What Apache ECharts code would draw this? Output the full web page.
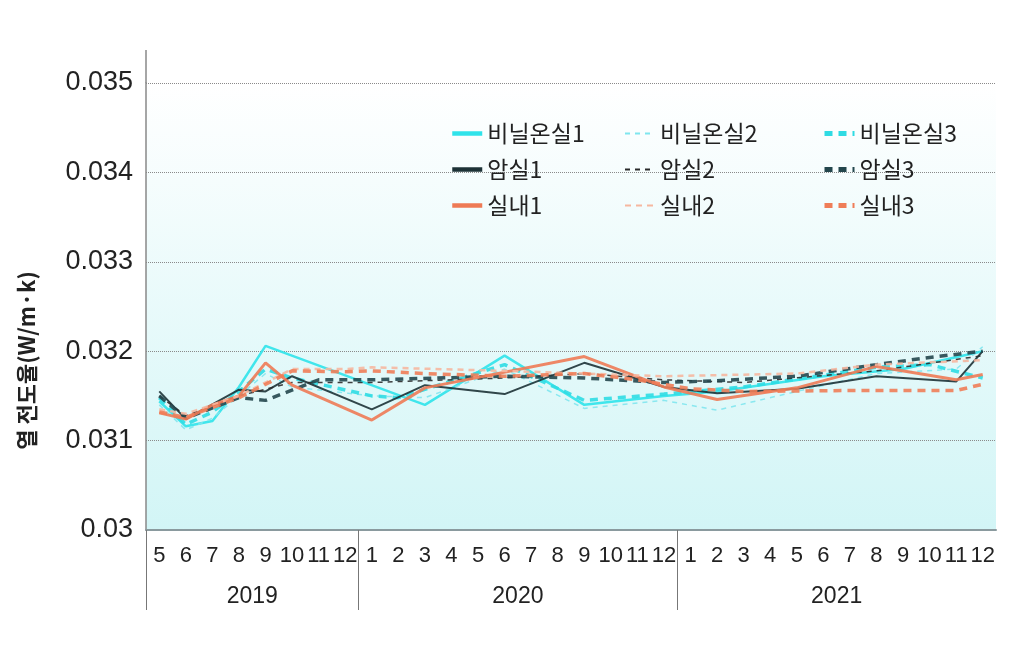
<!DOCTYPE html>
<html>
<head>
<meta charset="utf-8">
<script src="https://cdn.jsdelivr.net/npm/echarts@6/dist/echarts.min.js"></script>
<style>
html, body { margin: 0; padding: 0; background: #fff; }
#chart { width: 1020px; height: 652px; }
</style>
</head>
<body>
<div id="chart"></div>
<script>
// months from 2019-05 to 2021-12
var months = ['5','6','7','8','9','10','11','12',
  '1','2','3','4','5','6','7','8','9','10','11','12',
  '1','2','3','4','5','6','7','8','9','10','11','12'];
var years = ['2019', '2020', '2021'];
var yearMonths = [8, 12, 12];
var yTicks = [0.03, 0.031, 0.032, 0.033, 0.034, 0.035];

var n = null;
// 비닐온실
var vinyl1 = [0.03144,0.03116,0.03122,0.03160,0.03206,n,n,n, n,n,0.03140,n,n,0.03195,n,n,0.03140,n,n,0.03150, n,0.03155,n,n,n,0.03172,n,n,0.03180,n,n,0.03200];
var vinyl2 = [0.03140,0.03112,0.03125,n,0.03175,0.03160,n,n, 0.03150,n,0.03148,n,n,0.03180,n,n,0.03136,n,n,0.03145, n,0.03134,n,n,0.03155,n,n,0.03175,n,n,0.03180,0.03205];
var vinyl3 = [0.03148,0.03118,0.03132,0.03155,0.03180,0.03170,n,n, 0.03150,0.03148,n,n,n,0.03185,n,n,0.03145,n,n,0.03152, n,n,0.03160,n,n,n,n,0.03182,n,0.03185,n,0.03170];
// 암실
var dark1 = [0.03155,0.03124,n,0.03157,0.03155,0.03172,n,n, 0.03135,n,0.03162,n,n,0.03152,n,n,0.03187,n,n,0.03160, n,0.03153,n,n,0.03158,n,n,0.03172,n,n,0.03166,0.03200];
var dark2 = [0.03150,0.03128,n,0.03150,n,0.03165,n,n, 0.03165,n,n,n,n,0.03170,n,n,0.03175,n,n,0.03168, n,n,0.03165,n,n,n,n,0.03178,n,n,n,0.03195];
var dark3 = [0.03150,0.03125,n,0.03148,0.03145,n,0.03168,n, 0.03168,n,n,n,n,0.03172,n,n,0.03170,n,n,0.03165, n,0.03167,n,n,0.03172,n,n,0.03185,n,0.03193,n,0.03200];
// 실내
var room1 = [0.03131,0.03124,0.03140,0.03150,0.03187,0.03162,n,n, 0.03123,n,0.03159,n,n,n,n,n,0.03194,n,n,0.03160, n,0.03146,n,n,0.03159,n,n,0.03183,n,n,0.03168,0.03174];
var room2 = [0.03135,0.03130,n,0.03150,n,0.03180,n,0.03180, 0.03182,n,n,n,n,0.03178,n,n,0.03175,n,n,0.03172, n,n,n,n,0.03175,n,n,0.03185,n,n,n,0.03190];
var room3 = [0.03132,0.03126,n,0.03148,n,0.03178,n,0.03177, 0.03178,n,0.03175,n,n,0.03172,n,n,0.03175,n,0.03168,n, 0.03158,n,0.03155,n,n,n,0.03156,n,n,n,0.03156,0.03163];

var names = ['비닐온실1','비닐온실2','비닐온실3','암실1','암실2','암실3','실내1','실내2','실내3'];
var values = [vinyl1, vinyl2, vinyl3, dark1, dark2, dark3, room1, room2, room3];
var colors = ['#2fe3ea','#7fe6ee','#2fdbe3','#1d3236','#2a2a2a','#23464c','#ee7a55','#f6b7a0','#ef7d58'];
var widths = [2.5, 1.5, 3.5, 2, 1.5, 3.5, 3, 2.5, 3.5];
var dashes = ['solid', [5, 5], [8, 6], 'solid', [5, 5], [8, 6], 'solid', [6, 5], [8, 6]];

// year row: point axis with 33 boundary points, label in middle of each year
var yearLabels = [];
for (var i = 0; i <= months.length; i++) yearLabels.push('');
var pos = 0;
var yearStarts = [];
years.forEach(function (y, k) {
  yearStarts.push(pos);
  yearLabels[pos + yearMonths[k] / 2] = y;
  pos += yearMonths[k];
});

var chart = echarts.init(document.getElementById('chart'));

var series = names.map(function (name, k) {
  return {
    name: name,
    type: 'line',
    data: values[k],
    symbol: 'none',
    connectNulls: true,
    itemStyle: { color: colors[k] },
    lineStyle: { color: colors[k], width: widths[k], type: dashes[k], opacity: 0.9 },
    emphasis: { disabled: true }
  };
});

var legendText = { fontSize: 23, color: '#222', fontFamily: '"Noto Sans CJK KR", "Noto Sans", sans-serif' };
function col(items, left, lineW) {
  return {
    data: items,
    orient: 'vertical',
    left: left,
    top: 117,
    itemWidth: 30,
    itemHeight: 14,
    itemGap: 13,
    itemStyle: { opacity: 0 },
    lineStyle: { width: lineW, opacity: 1 },
    textStyle: legendText,
    selectedMode: false
  };
}

var tickFont = '"Liberation Sans", sans-serif';

var option = {
  backgroundColor: '#fff',
  animation: false,
  grid: {
    left: 146, right: 24, top: 83, bottom: 122,
    show: true,
    borderWidth: 0,
    backgroundColor: new echarts.graphic.LinearGradient(0, 0, 0, 1, [
      { offset: 0, color: '#ffffff' },
      { offset: 1, color: '#d2f5f6' }
    ])
  },
  legend: [
    col(['비닐온실1','암실1','실내1'], 445, 4.5),
    col(['비닐온실2','암실2','실내2'], 619, 2),
    col(['비닐온실3','암실3','실내3'], 817, 5)
  ],
  xAxis: [{
    type: 'category',
    data: months,
    boundaryGap: true,
    axisLine: { lineStyle: { color: '#8a9a9e', width: 2 } },
    axisTick: { show: false },
    axisLabel: {
      interval: 0, margin: 15, fontSize: 22, color: '#222', fontFamily: tickFont
    },
    splitLine: { show: false }
  }, {
    // year row, separators drawn as long ticks at year starts
    type: 'category',
    data: yearLabels,
    boundaryGap: false,
    position: 'bottom',
    axisLine: { show: false },
    axisTick: {
      show: true,
      length: 80,
      interval: function (idx) { return yearStarts.indexOf(idx) >= 0; },
      lineStyle: { color: '#777', width: 1 }
    },
    axisLabel: {
      interval: 0, margin: 55, fontSize: 23, color: '#222', fontFamily: tickFont
    }
  }],
  yAxis: {
    type: 'value',
    min: yTicks[0],
    max: yTicks[yTicks.length - 1],
    interval: 0.001,
    name: '열 전도율(W/m·k)',
    nameLocation: 'middle',
    nameRotate: 90,
    nameGap: 108,
    nameTextStyle: {
      fontSize: 22, fontWeight: 'bold', color: '#222',
      fontFamily: '"Noto Sans CJK KR", sans-serif',
      padding: [0, 108, 0, 0]
    },
    axisLine: { show: true, lineStyle: { color: '#888', width: 1.5 } },
    axisTick: { show: false },
    axisLabel: {
      margin: 13, fontSize: 27, color: '#222', fontFamily: tickFont,
      padding: [10, 0, 0, 0]
    },
    splitLine: { show: true, lineStyle: { color: '#8a8a8a', type: 'dotted', width: 1 } }
  },
  graphic: [{
    type: 'line',
    shape: { x1: 146, y1: 50, x2: 146, y2: 83 },
    style: { stroke: '#888', lineWidth: 1.5 }
  }],
  series: series
};

chart.setOption(option);
</script>
</body>
</html>
